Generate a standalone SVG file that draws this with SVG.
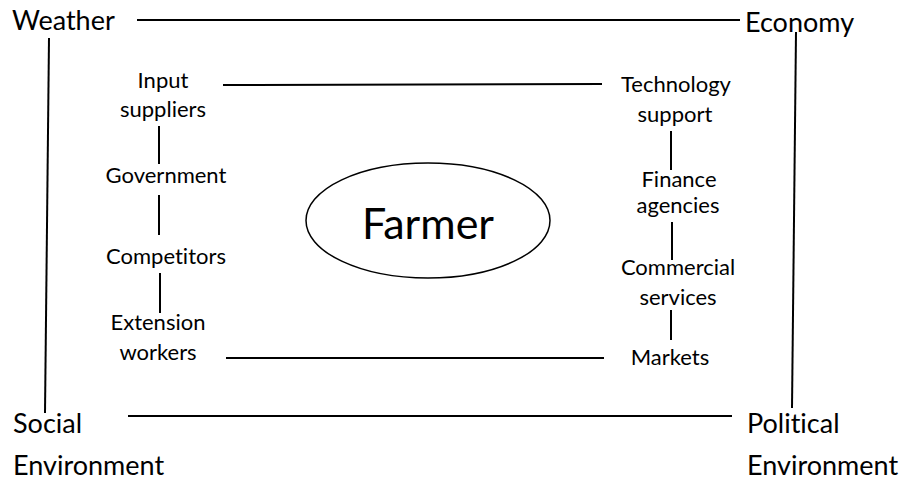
<svg xmlns="http://www.w3.org/2000/svg" width="902" height="481" viewBox="0 0 902 481">
  <style>
    .ln { stroke: #000; stroke-width: 2; fill: none; stroke-linecap: butt; }
    text { font-family: Lato, "Open Sans", sans-serif; fill: #000; font-variant-ligatures: none; font-feature-settings: "liga" 0; }
    .outer { font-size: 27px; }
    .inner { font-size: 22px; text-anchor: middle; }
    .hub { font-size: 43px; text-anchor: middle; }
  </style>
  <rect width="902" height="481" fill="#fff"/>

  <!-- connectors -->
  <g id="connectors" class="ln">
    <line x1="137" y1="20" x2="740" y2="20"/>
    <line x1="49" y1="38" x2="45" y2="413"/>
    <line x1="796" y1="32" x2="792" y2="408"/>
    <line x1="128" y1="416" x2="732" y2="416"/>
    <line x1="223" y1="85" x2="602" y2="84"/>
    <line x1="226" y1="358" x2="604" y2="358"/>
    <line x1="159" y1="126" x2="159" y2="164"/>
    <line x1="159" y1="195" x2="159" y2="235"/>
    <line x1="160" y1="273" x2="160" y2="313"/>
    <line x1="671" y1="131" x2="671" y2="170"/>
    <line x1="672" y1="222" x2="672" y2="260"/>
    <line x1="671" y1="310" x2="671" y2="340"/>
  </g>

  <!-- outer environment nodes -->
  <g id="weather"><text class="outer" x="12" y="30">Weather</text></g>
  <g id="economy"><text class="outer" x="745" y="32">Economy</text></g>
  <g id="social"><text class="outer" x="13" y="433">Social</text><text class="outer" x="13" y="475">Environment</text></g>
  <g id="political"><text class="outer" x="747" y="433">Political</text><text class="outer" x="747" y="475">Environment</text></g>

  <!-- left column -->
  <g id="input"><text class="inner" x="163" y="88">Input</text><text class="inner" x="163" y="117">suppliers</text></g>
  <g id="government"><text class="inner" x="166" y="183">Government</text></g>
  <g id="competitors"><text class="inner" x="166" y="264">Competitors</text></g>
  <g id="extension"><text class="inner" x="158" y="330">Extension</text><text class="inner" x="158" y="360">workers</text></g>

  <!-- right column -->
  <g id="technology"><text class="inner" x="676" y="92">Technology</text><text class="inner" x="675" y="122">support</text></g>
  <g id="finance"><text class="inner" x="679" y="187">Finance</text><text class="inner" x="678" y="213">agencies</text></g>
  <g id="commercial"><text class="inner" x="678" y="275">Commercial</text><text class="inner" x="678" y="305">services</text></g>
  <g id="markets"><text class="inner" x="670" y="365">Markets</text></g>

  <!-- centre -->
  <g id="farmer">
    <ellipse cx="428" cy="220.5" rx="122" ry="57.5" fill="#fff" stroke="#000" stroke-width="1.5"/>
    <text class="hub" x="428" y="239">Farmer</text>
  </g>
</svg>
